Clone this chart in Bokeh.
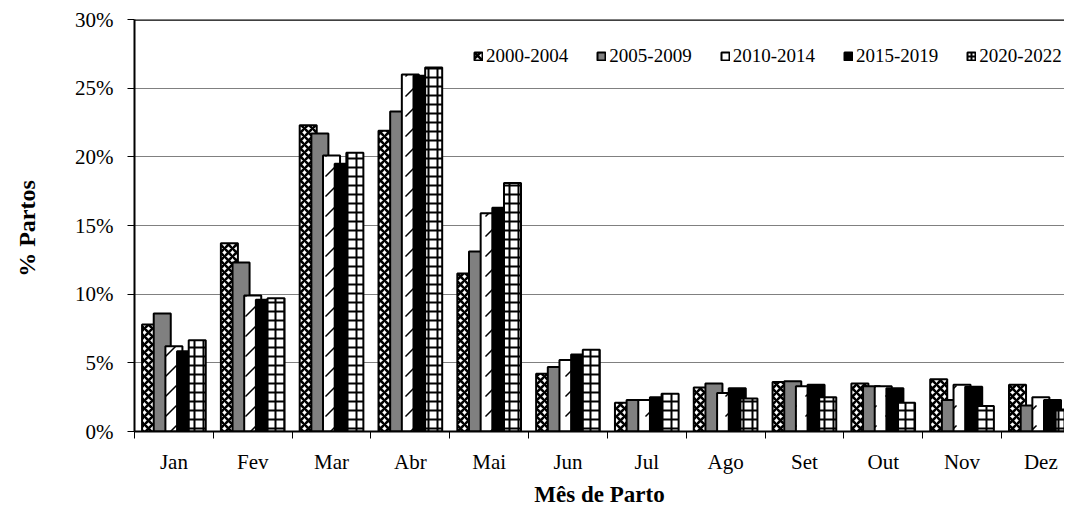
from bokeh.plotting import figure
from bokeh.models import (ColumnDataSource, Range1d, FixedTicker, Span, Legend,
                          PrintfTickFormatter)
from bokeh.embed import file_html
from bokeh.resources import INLINE

# ---------------- data ----------------
months = ["Jan", "Fev", "Mar", "Abr", "Mai", "Jun", "Jul", "Ago", "Set", "Out", "Nov", "Dez"]
periods = ["2000-2004", "2005-2009", "2010-2014", "2015-2019", "2020-2022"]
s2000 = [7.8, 13.7, 22.3, 21.9, 11.5, 4.2, 2.1, 3.2, 3.6, 3.5, 3.8, 3.4]
s2005 = [8.6, 12.3, 21.7, 23.3, 13.1, 4.7, 2.3, 3.5, 3.65, 3.3, 2.3, 1.9]
s2010 = [6.2, 9.9, 20.1, 26.0, 15.9, 5.2, 2.3, 2.8, 3.3, 3.3, 3.4, 2.5]
s2015 = [5.85, 9.6, 19.5, 25.9, 16.3, 5.6, 2.5, 3.15, 3.4, 3.15, 3.25, 2.3]
s2020 = [6.65, 9.7, 20.3, 26.5, 18.1, 5.95, 2.75, 2.4, 2.5, 2.1, 1.85, 1.6]
series = [s2000, s2005, s2010, s2015, s2020]
y_ticks = [0, 5, 10, 15, 20, 25, 30]

styles = [
    dict(fill_color="white", hatch_pattern="x", hatch_scale=8, hatch_weight=2.6),
    dict(fill_color="#808080", hatch_pattern=None),
    dict(fill_color="white", hatch_pattern=",", hatch_scale=20, hatch_weight=1.5),
    dict(fill_color="black", hatch_pattern=None),
    dict(fill_color="white", hatch_pattern="+", hatch_scale=9, hatch_weight=2),
]

FONT = "Liberation Serif"

p = figure(width=1064, height=509, output_backend="svg", toolbar_location=None,
           x_range=Range1d(0, 11.80), y_range=Range1d(0, 30),
           min_border_left=134, min_border_right=0, min_border_top=19, min_border_bottom=10)
p.outline_line_color = None
p.background_fill_color = "white"

step, bw = 0.148, 0.216
items = []
for k, (name, vals, st) in enumerate(zip(periods, series, styles)):
    xs = [i + 0.5 + (k - 2) * step for i in range(len(months))]
    src = ColumnDataSource(dict(x=xs, top=vals))
    kw = dict(x="x", top="top", width=bw, bottom=0, source=src, fill_color=st["fill_color"],
              line_color="black", line_width=2)
    if st["hatch_pattern"]:
        kw.update(hatch_pattern=st["hatch_pattern"], hatch_color="black",
                  hatch_scale=st["hatch_scale"], hatch_weight=st["hatch_weight"])
    r = p.vbar(**kw)
    items.append((name, [r]))

legend = Legend(items=items, orientation="horizontal", location=(339, 364),
                label_text_font=FONT, label_text_font_size="19px",
                label_text_color="black",
                glyph_width=10, glyph_height=10, label_standoff=3, spacing=28,
                padding=0, margin=0, background_fill_alpha=0, border_line_color=None,
                label_height=12)
p.add_layout(legend, "center")

p.add_layout(Span(location=30, dimension="width", line_color="black", line_width=2.5))

# axes
p.yaxis.ticker = FixedTicker(ticks=y_ticks)
p.yaxis.formatter = PrintfTickFormatter(format="%d%%")
p.yaxis.axis_line_color = "black"
p.yaxis.axis_line_width = 2
p.yaxis.major_tick_out = 7
p.yaxis.major_tick_in = 0
p.yaxis.minor_tick_line_color = None
p.yaxis.major_label_text_font = FONT
p.yaxis.major_label_text_font_size = "21px"
p.yaxis.major_label_text_color = "black"
p.yaxis.major_label_standoff = 14
p.yaxis.axis_label = "%  Partos"
p.yaxis.axis_label_text_font = FONT
p.yaxis.axis_label_text_font_style = "bold"
p.yaxis.axis_label_text_font_size = "24px"
p.yaxis.axis_label_text_color = "black"
p.yaxis.axis_label_standoff = 32

centers = [i + 0.5 for i in range(len(months))]
p.xaxis.ticker = FixedTicker(ticks=centers, minor_ticks=list(range(len(months) + 1)))
p.xaxis.major_label_overrides = {c: m for c, m in zip(centers, months)}
p.xaxis.major_tick_line_color = None
p.xaxis.minor_tick_line_color = "black"
p.xaxis.minor_tick_out = 7
p.xaxis.minor_tick_in = 0
p.xaxis.axis_line_color = "black"
p.xaxis.axis_line_width = 2
p.xaxis.major_label_text_font = FONT
p.xaxis.major_label_text_font_size = "21px"
p.xaxis.major_label_text_color = "black"
p.xaxis.major_label_standoff = 11
p.xaxis.axis_label = "Mês de Parto"
p.xaxis.axis_label_text_font = FONT
p.xaxis.axis_label_text_font_style = "bold"
p.xaxis.axis_label_text_font_size = "23px"
p.xaxis.axis_label_text_color = "black"
p.xaxis.axis_label_standoff = 5

p.xgrid.grid_line_color = None
p.ygrid.ticker = FixedTicker(ticks=y_ticks)
p.ygrid.grid_line_color = "#808080"
p.ygrid.grid_line_width = 1

open("out.html", "w").write(file_html(p, INLINE))
